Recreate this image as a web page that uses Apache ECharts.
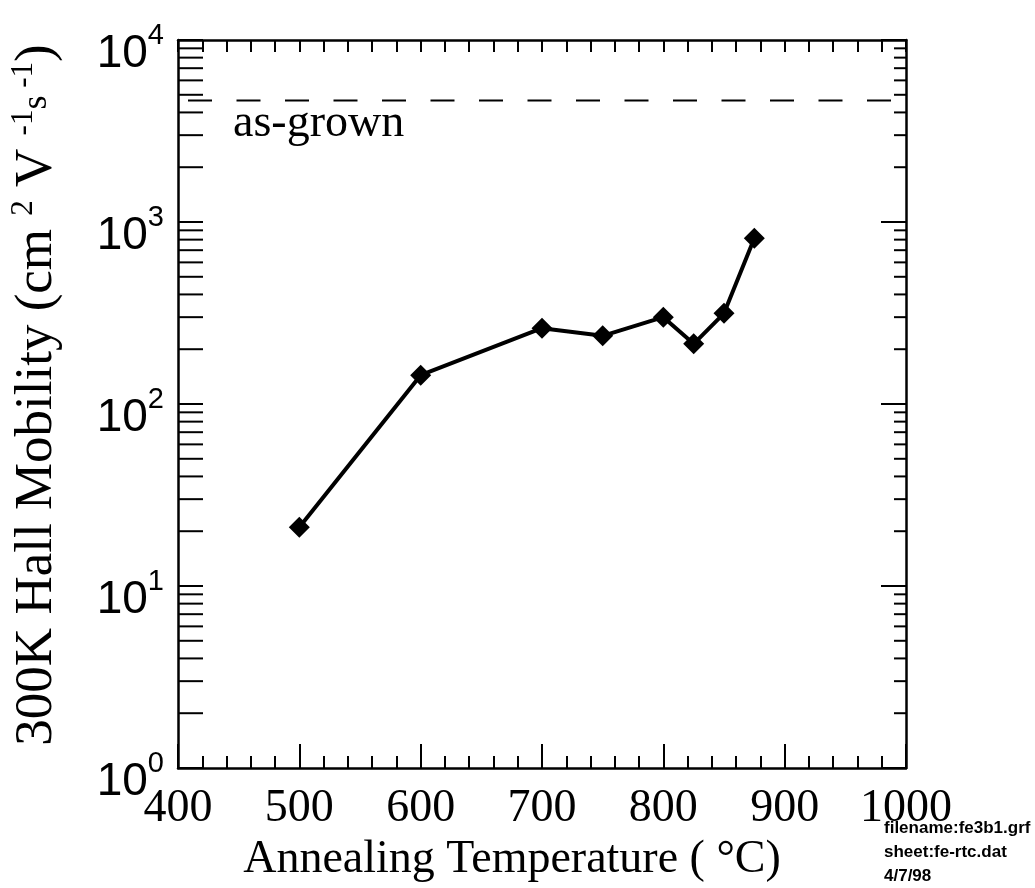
<!DOCTYPE html>
<html>
<head>
<meta charset="utf-8">
<title>300K Hall Mobility vs Annealing Temperature</title>
<script src="https://cdn.jsdelivr.net/npm/echarts@6/dist/echarts.min.js"></script>
<style>
  html, body { margin: 0; padding: 0; background: #fff; }
  #chart { width: 1035px; height: 888px; }
</style>
</head>
<body>
<div id="chart"></div>
<script>
// Annealing temperatures (°C) and the measured 300 K Hall mobility (cm^2 V^-1 s^-1)
const temperatures = [500, 600, 700, 750, 800, 825, 850, 875];
const mobility = [21, 144, 261, 237, 300, 214, 315, 813];

// Mobility of the as-grown sample (dashed reference line)
const asGrownMobility = 4650;

// Axis ranges
const xRange = [400, 1000];
const yRange = [1, 10000];

// Minor tick positions on the logarithmic mobility axis
const yMinorTicks = [
  2, 3, 4, 5, 6, 7, 8, 9,
  20, 30, 40, 50, 60, 70, 80, 90,
  200, 300, 400, 500, 600, 700, 800, 900,
  2000, 3000, 4000, 5000, 6000, 7000, 8000, 9000
];

// Footer notes
const footerLines = ['filename:fe3b1.grf', 'sheet:fe-rtc.dat', '4/7/98'];

const SERIF = '"Liberation Serif", "Times New Roman", serif';
const SANS = '"Liberation Sans", Arial, sans-serif';

const chart = echarts.init(document.getElementById('chart'), null, { renderer: 'canvas' });

const axisLineStyle = { color: '#000', width: 2.5 };

const option = {
  backgroundColor: '#fff',
  animation: false,
  grid: { left: 175, right: 129, top: 40, bottom: 120, containLabel: false },
  xAxis: [
    {
      type: 'value',
      position: 'bottom',
      min: xRange[0],
      max: xRange[1],
      interval: 100,
      axisLine: { show: true, onZero: false, lineStyle: axisLineStyle },
      axisTick: { show: true, inside: true, length: 24, lineStyle: { color: '#000', width: 2 } },
      minorTick: { show: true, splitNumber: 5, length: 12, lineStyle: { color: '#000', width: 2 } },
      splitLine: { show: false },
      axisLabel: {
        show: true,
        margin: 18,
        color: '#000',
        fontFamily: SERIF,
        fontSize: 46,
        formatter: function (v) { return String(v); }
      },
      name: 'Annealing Temperature ( °C)',
      nameLocation: 'middle',
      nameGap: 62,
      nameTextStyle: {
        color: '#000',
        fontFamily: SERIF,
        fontSize: 46,
        padding: [0, 60, 0, 0]
      }
    },
    {
      type: 'value',
      position: 'top',
      min: xRange[0],
      max: xRange[1],
      interval: 20,
      axisLine: { show: true, onZero: false, lineStyle: axisLineStyle },
      axisTick: { show: true, inside: true, length: 12, lineStyle: { color: '#000', width: 2 } },
      splitLine: { show: false },
      axisLabel: { show: false }
    }
  ],
  yAxis: [
    {
      type: 'log',
      logBase: 10,
      position: 'left',
      min: yRange[0],
      max: yRange[1],
      axisLine: { show: true, onZero: false, lineStyle: axisLineStyle },
      axisTick: { show: true, inside: true, length: 25, lineStyle: { color: '#000', width: 2 } },
      splitLine: { show: false },
      axisLabel: {
        show: true,
        margin: 14,
        padding: [18, 0, 0, 0],
        formatter: function (v) {
          const exp = Math.round(Math.log10(v));
          return '{b|10}{s|' + exp + '}';
        },
        rich: {
          b: { fontFamily: SANS, fontSize: 46, lineHeight: 56, verticalAlign: 'bottom', color: '#000' },
          s: { fontFamily: SANS, fontSize: 29, lineHeight: 29, verticalAlign: 'top', color: '#000' }
        }
      },
      name: '{m|300K Hall Mobility (cm }{p|2}{m| V }{p|-1}{q|s}{p| -1}{m|)}',
      nameLocation: 'middle',
      nameRotate: 90,
      nameGap: 112,
      nameTextStyle: {
        padding: [0, 0, 0, 18],
        rich: {
          m: { fontFamily: SERIF, fontSize: 53, lineHeight: 58, color: '#000' },
          p: { fontFamily: SERIF, fontSize: 31, lineHeight: 31, verticalAlign: 'top', color: '#000' },
          q: { fontFamily: SERIF, fontSize: 36, lineHeight: 36, verticalAlign: 'middle', color: '#000' }
        }
      }
    },
    {
      type: 'log',
      logBase: 10,
      position: 'right',
      min: yRange[0],
      max: yRange[1],
      axisLine: { show: true, onZero: false, lineStyle: axisLineStyle },
      axisTick: { show: true, inside: true, length: 25, lineStyle: { color: '#000', width: 2 } },
      splitLine: { show: false },
      axisLabel: { show: false }
    }
  ],
  series: [
    {
      // Minor ticks of the log axis: long on the left frame, short on the right frame
      type: 'custom',
      name: 'minor ticks',
      xAxisIndex: 0,
      yAxisIndex: 0,
      silent: true,
      clip: false,
      encode: { x: 0, y: 1 },
      data: yMinorTicks.map(function (v) { return [xRange[0], v]; }),
      renderItem: function (params, api) {
        const cs = params.coordSys;
        const p = api.coord([xRange[0], api.value(1)]);
        const left = cs.x;
        const right = cs.x + cs.width;
        const st = { stroke: '#000', lineWidth: 2 };
        return {
          type: 'group',
          children: [
            { type: 'line', shape: { x1: left, y1: p[1], x2: left + 25, y2: p[1] }, style: st },
            { type: 'line', shape: { x1: right - 12, y1: p[1], x2: right, y2: p[1] }, style: st }
          ]
        };
      },
      z: 1
    },
    {
      // As-grown reference level
      type: 'line',
      name: 'as-grown',
      xAxisIndex: 0,
      yAxisIndex: 0,
      data: [[xRange[0], asGrownMobility], [xRange[1], asGrownMobility]],
      symbol: 'none',
      silent: true,
      lineStyle: { color: '#000', width: 2, type: [24, 24.5], dashOffset: 38.5 },
      z: 2
    },
    {
      type: 'line',
      name: 'Hall mobility',
      xAxisIndex: 0,
      yAxisIndex: 0,
      data: temperatures.map(function (t, i) { return [t, mobility[i]]; }),
      symbol: 'diamond',
      symbolSize: 21,
      showSymbol: true,
      itemStyle: { color: '#000' },
      lineStyle: { color: '#000', width: 4 },
      z: 3
    }
  ],
  graphic: [
    {
      type: 'text',
      left: 233,
      top: 101,
      style: {
        text: 'as-grown',
        fontFamily: SERIF,
        fontSize: 46,
        fill: '#000'
      }
    },
    {
      type: 'text',
      left: 884,
      top: 816,
      style: {
        text: footerLines.join('\n'),
        fontFamily: SANS,
        fontWeight: 'bold',
        fontSize: 17,
        lineHeight: 24,
        fill: '#000'
      }
    }
  ]
};

chart.setOption(option);
</script>
</body>
</html>
